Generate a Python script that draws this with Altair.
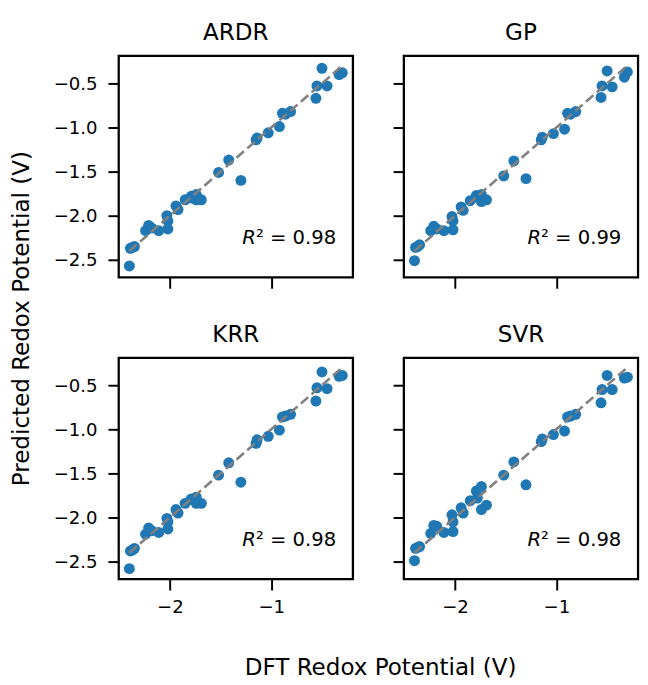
import altair as alt
import pandas as pd

models = ["ARDR", "GP", "KRR", "SVR"]
r2_values = ["0.98", "0.99", "0.98", "0.98"]

dft = [-2.40, -2.39, -2.35, -2.37, -2.24, -2.21, -2.18, -2.11, -2.02, -2.03, -2.02,
       -1.94, -1.92, -1.85, -1.79, -1.78, -1.74, -1.69, -1.74, -1.52, -1.42, -1.30,
       -1.15, -1.14, -1.03, -0.92, -0.89, -0.86, -0.81, -0.56, -0.55, -0.45, -0.50,
       -0.33, -0.30]

pred_ardr = [-2.57, -2.37, -2.35, -2.36, -2.17, -2.11, -2.14, -2.17, -2.15, -2.00, -2.06,
             -1.89, -1.93, -1.82, -1.78, -1.80, -1.82, -1.82, -1.76, -1.51, -1.37, -1.60,
             -1.14, -1.12, -1.06, -0.99, -0.84, -0.85, -0.82, -0.67, -0.53, -0.53, -0.33,
             -0.40, -0.38]
pred_gp = [-2.51, -2.36, -2.33, -2.35, -2.17, -2.12, -2.15, -2.17, -2.16, -2.01, -2.06,
           -1.90, -1.94, -1.83, -1.77, -1.79, -1.84, -1.82, -1.76, -1.55, -1.38, -1.58,
           -1.14, -1.11, -1.07, -1.02, -0.84, -0.85, -0.82, -0.66, -0.53, -0.54, -0.36,
           -0.43, -0.37]
pred_krr = [-2.58, -2.38, -2.35, -2.37, -2.19, -2.12, -2.15, -2.17, -2.13, -2.01, -2.05,
            -1.91, -1.95, -1.84, -1.79, -1.80, -1.84, -1.84, -1.77, -1.52, -1.38, -1.60,
            -1.16, -1.12, -1.08, -1.01, -0.86, -0.85, -0.83, -0.68, -0.53, -0.54, -0.35,
            -0.40, -0.39]
pred_svr = [-2.49, -2.35, -2.33, -2.34, -2.18, -2.09, -2.10, -2.17, -2.16, -1.97, -2.05,
            -1.89, -1.95, -1.81, -1.70, -1.78, -1.91, -1.86, -1.65, -1.52, -1.37, -1.63,
            -1.14, -1.11, -1.06, -1.02, -0.86, -0.85, -0.83, -0.70, -0.55, -0.55, -0.39,
            -0.42, -0.41]
preds = [pred_ardr, pred_gp, pred_krr, pred_svr]

x_ticks = [-2, -1]
y_ticks = [-2.5, -2.0, -1.5, -1.0, -0.5]
x_domain = [-2.505, -0.195]
y_domain = [-2.70, -0.19]

FONT = "DejaVu Sans"
W, H = 239, 226


def panel(name, pred, r2v, show_x, show_y):
    df = pd.DataFrame({"dft": dft, "pred": pred})
    lo, hi = min(dft), max(dft)
    line_df = pd.DataFrame({"dft": [lo, hi], "pred": [lo, hi]})
    xax = alt.Axis(values=x_ticks, labels=show_x, title=None, grid=False, domain=False,
                   labelPadding=8,
                   labelExpr="replace(format(datum.value, 'd'), '-', '\u2212')")
    yax = alt.Axis(values=y_ticks, labels=show_y, title=None, grid=False, domain=False,
                   labelPadding=11,
                   labelExpr="replace(format(datum.value, '.1f'), '-', '\u2212')")
    xs = alt.X("dft:Q", scale=alt.Scale(domain=x_domain, nice=False, zero=False), axis=xax)
    ys = alt.Y("pred:Q", scale=alt.Scale(domain=y_domain, nice=False, zero=False), axis=yax)
    pts = alt.Chart(df).mark_circle(size=125, color="#1f77b4", opacity=1).encode(x=xs, y=ys)
    line = alt.Chart(line_df).mark_line(color="gray", strokeWidth=2.6,
                                        strokeDash=[10, 4.5]).encode(x=xs, y=ys)
    r_txt = alt.Chart(pd.DataFrame({"t": ["R"]})).mark_text(
        font=FONT, fontSize=20, fontStyle="italic", align="right", baseline="alphabetic",
        color="black").encode(text="t:N", x=alt.value(140), y=alt.value(192))
    v_txt = alt.Chart(pd.DataFrame({"t": ["\u00b2 = " + r2v]})).mark_text(
        font=FONT, fontSize=20, align="left", baseline="alphabetic",
        color="black").encode(text="t:N", x=alt.value(140), y=alt.value(192))
    return alt.layer(pts, line, r_txt, v_txt).properties(
        width=W, height=H,
        title=alt.TitleParams(name, fontSize=23.5, font=FONT, fontWeight="normal",
                              anchor="middle", offset=12, color="black"))


p = [panel(m, preds[i], r2_values[i], show_x=(i >= 2), show_y=(i % 2 == 0))
     for i, m in enumerate(models)]

row1 = alt.hconcat(p[0], p[1], spacing=36)
row2 = alt.hconcat(p[2], p[3], spacing=36)
grid = alt.vconcat(row1, row2, spacing=31,
                   title=alt.TitleParams("Predicted Redox Potential (V)", orient="left",
                                         anchor="middle", fontSize=23.5, font=FONT,
                                         fontWeight="normal", offset=19, color="black"))
chart = alt.vconcat(grid, title=alt.TitleParams("DFT Redox Potential (V)", orient="bottom",
                                                anchor="middle", fontSize=23.5, font=FONT,
                                                fontWeight="normal", offset=40, dx=57,
                                                color="black"))
chart = chart.properties(
    padding={"left": 2, "top": 5, "right": 0, "bottom": 0}
).configure_view(
    stroke="black", strokeWidth=2.3
).configure_axis(
    tickSize=11, tickWidth=2, tickColor="black", labelFontSize=18.5,
    labelFont=FONT, labelColor="black"
)

chart.save("out.html", embed_options={"renderer": "svg", "actions": False})
